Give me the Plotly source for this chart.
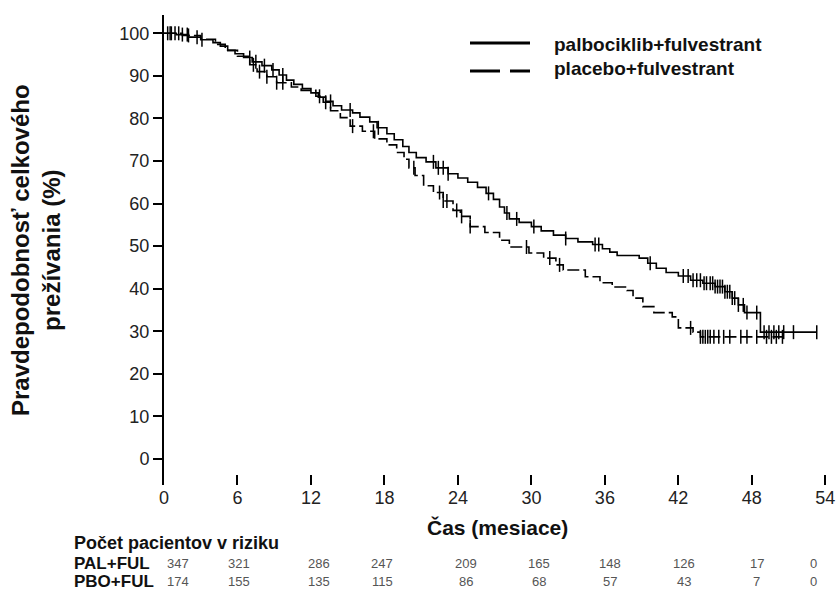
import numpy as np
import plotly.graph_objects as go

# ---------------- data ----------------
pal_t = [0, 1.0, 2.0, 3.0, 4.0, 4.6, 5.2, 5.8, 6.5, 7.2, 8.0, 8.8, 9.4, 10.0, 10.6, 11.3,
         12.0, 12.6, 13.2, 13.8, 14.5, 15.4, 16.0, 16.8, 17.4, 18.2, 18.8, 19.5, 20.0, 20.6,
         21.4, 22.2, 23.2, 24.0, 24.8, 25.6, 26.3, 26.9, 27.4, 27.8, 28.2, 29.0, 30.0, 30.8,
         31.8, 32.8, 33.8, 35.0, 35.8, 36.4, 37.0, 38.8, 39.5, 40.2, 41.0, 42.0, 43.0, 44.0,
         45.0, 45.8, 46.4, 46.9, 47.4, 48.7, 53.3]
pal_s = [100, 99.7, 99.1, 98.5, 97.8, 97.0, 96.0, 95.2, 94.3, 93.3, 92.4, 91.4, 90.2, 89.0,
         88.0, 87.0, 86.0, 85.0, 84.0, 83.0, 82.0, 81.3, 80.3, 79.2, 77.8, 76.4, 75.0, 73.4,
         72.0, 70.8, 69.8, 68.4, 67.0, 66.0, 65.0, 63.8, 62.4, 61.0, 59.2, 57.8, 56.4, 55.6,
         54.6, 53.6, 52.6, 51.8, 51.0, 50.4, 49.4, 48.6, 47.8, 47.2, 46.0, 44.8, 43.8, 43.0,
         42.0, 41.3, 40.5, 39.3, 37.8, 36.2, 34.4, 29.8, 29.8]
pal_censor = [0.3, 0.6, 0.9, 1.5, 1.9, 2.7, 3.1, 7.0, 7.5, 8.2, 8.9, 9.7, 13.6, 15.2, 17.5,
              22.0, 22.4, 22.8, 23.2, 26.5, 28.0, 28.8, 30.2, 32.8, 35.2, 35.5, 39.7, 42.4,
              42.8, 43.2, 43.5, 43.8, 44.1, 44.3, 44.6, 44.8, 45.0, 45.2, 45.4, 45.6, 45.8,
              46.0, 46.2, 46.4, 46.6, 46.9, 47.3, 47.6, 48.4, 49.0, 49.4, 49.8, 50.2, 50.6,
              51.4, 53.3]

pbo_t = [0, 1.5, 3.0, 4.2, 5.0, 6.0, 7.0, 7.6, 8.4, 9.2, 10.4, 11.2, 12.4, 13.0, 13.6, 14.4,
         15.2, 16.2, 17.2, 18.2, 19.0, 19.6, 20.0, 20.5, 21.2, 22.0, 22.8, 23.6, 24.2, 25.0,
         26.2, 27.4, 28.2, 29.8, 31.0, 32.0, 32.6, 34.4, 35.6, 36.6, 37.8, 38.3, 39.1, 40.0,
         41.5, 42.0, 43.2, 43.8, 50.5]
pbo_s = [100, 99.5, 98.6, 97.4, 96.0, 94.6, 92.6, 91.0, 89.8, 88.4, 87.4, 86.6, 85.2, 83.8,
         81.8, 80.2, 78.2, 77.0, 75.2, 73.8, 72.0, 70.4, 68.4, 66.6, 64.2, 62.6, 60.6, 58.4,
         57.0, 54.6, 53.2, 51.4, 49.8, 48.4, 47.2, 45.6, 44.4, 42.8, 41.4, 40.4, 39.6, 37.8,
         35.8, 34.4, 33.4, 30.8, 29.8, 28.7, 28.7]
pbo_censor = [0.5, 1.2, 2.0, 7.3, 7.8, 8.4, 9.2, 9.7, 12.7, 13.2, 15.4, 17.1, 20.4, 22.5,
              22.8, 23.1, 23.9, 24.3, 25.0, 29.6, 31.5, 32.3, 43.0, 43.8, 44.0, 44.2, 44.4,
              44.6, 44.9, 45.3, 45.7, 46.2, 47.1, 47.6, 48.4, 49.2, 49.6, 50.0, 50.5]

x_ticks = [0, 6, 12, 18, 24, 30, 36, 42, 48, 54]
y_ticks = [0, 10, 20, 30, 40, 50, 60, 70, 80, 90, 100]
risk_pal = [347, 321, 286, 247, 209, 165, 148, 126, 17, 0]
risk_pbo = [174, 155, 135, 115, 86, 68, 57, 43, 7, 0]

series_names = ["palbociklib+fulvestrant", "placebo+fulvestrant"]
row_labels = ["PAL+FUL", "PBO+FUL"]
risk_title = "Počet pacientov v riziku"
x_title = "Čas (mesiace)"
y_title = "Pravdepodobnosť celkového<br>prežívania (%)"

# ---------------- layout helpers ----------------
W, H = 837, 590
ML, MR, MT, MB = 164, 8, 15, 105
PW, PH = W - ML - MR, H - MT - MB
# pixel nudges of risk-table columns relative to their ticks (layout only)
RISK_SHIFT = [14, 2, 8, -2, 8, 8, 5, 6, 5, -12]


def px(xp):
    return (xp - ML) / PW


def py(yp):
    return (H - MB - yp) / PH


def step_at(ts, ss, t):
    ts = np.asarray(ts)
    ss = np.asarray(ss)
    idx = np.searchsorted(ts, t, side="right") - 1
    return ss[np.clip(idx, 0, len(ss) - 1)]


FONT = "Liberation Sans, Arial, sans-serif"

fig = go.Figure()
for ts, ss, cens, dash in [(pal_t, pal_s, pal_censor, "solid"),
                           (pbo_t, pbo_s, pbo_censor, "12px,4px")]:
    fig.add_trace(go.Scatter(x=ts, y=ss, mode="lines", line_shape="hv",
                             line=dict(color="black", width=1.6, dash=dash),
                             showlegend=False, hoverinfo="skip"))
    fig.add_trace(go.Scatter(x=cens, y=step_at(ts, ss, cens), mode="markers",
                             marker=dict(symbol="line-ns-open", size=10, color="black",
                                         line=dict(color="black", width=1.5)),
                             showlegend=False, hoverinfo="skip"))

fig.update_layout(
    width=W, height=H,
    margin=dict(l=ML, r=MR, t=MT, b=MB, autoexpand=False),
    paper_bgcolor="white", plot_bgcolor="white",
    font=dict(family=FONT, color="#222"),
    showlegend=False,
    xaxis=dict(range=[0, 54.3], tickvals=x_ticks, ticks="inside", ticklen=10,
               tickwidth=1.5, tickcolor="black", showline=False, showgrid=False,
               zeroline=False, tickfont=dict(size=18, color="#222", family=FONT)),
    yaxis=dict(range=[-6.1, 104.3], tickvals=y_ticks, ticks="outside", ticklen=9,
               tickwidth=1.5, tickcolor="black", showline=True, linewidth=2,
               linecolor="black", showgrid=False, zeroline=False,
               tickfont=dict(size=18, color="#222", family=FONT)),
)

# legend (custom, long line samples)
leg_y = [43, 71]
fig.add_shape(type="line", xref="paper", yref="paper", x0=px(470), x1=px(530),
              y0=py(leg_y[0]), y1=py(leg_y[0]), line=dict(color="black", width=3))
fig.add_shape(type="line", xref="paper", yref="paper", x0=px(470), x1=px(500),
              y0=py(leg_y[1]), y1=py(leg_y[1]), line=dict(color="black", width=3))
fig.add_shape(type="line", xref="paper", yref="paper", x0=px(510), x1=px(530),
              y0=py(leg_y[1]), y1=py(leg_y[1]), line=dict(color="black", width=3))
for name, yy in zip(series_names, [44, 68]):
    fig.add_annotation(text=name, xref="paper", yref="paper", x=px(552), y=py(yy),
                       xanchor="left", yanchor="middle", showarrow=False,
                       font=dict(size=19, color="#111", family=FONT, weight="bold"))

# axis titles
fig.add_annotation(text=x_title, xref="paper", yref="paper", x=px(497), y=py(527),
                   xanchor="center", yanchor="middle", showarrow=False,
                   font=dict(size=21, color="#111", family=FONT, weight="bold"))
fig.add_annotation(text=y_title, xref="paper", yref="paper", x=px(36), y=py(250),
                   xanchor="center", yanchor="middle", showarrow=False, textangle=-90,
                   font=dict(size=24, color="#111", family=FONT, weight="bold"))

# risk table
fig.add_annotation(text=risk_title, xref="paper", yref="paper", x=px(72), y=py(543),
                   xanchor="left", yanchor="middle", showarrow=False,
                   font=dict(size=18, color="#111", family=FONT, weight="bold"))
for lab, vals, yy in zip(row_labels, [risk_pal, risk_pbo], [563, 581]):
    fig.add_annotation(text=lab, xref="paper", yref="paper", x=px(72), y=py(yy),
                       xanchor="left", yanchor="middle", showarrow=False,
                       font=dict(size=17, color="#111", family=FONT, weight="bold"))
    for t, v, sh in zip(x_ticks, vals, RISK_SHIFT):
        fig.add_annotation(text=str(v), xref="x", yref="paper", x=t, y=py(yy),
                           xanchor="center", yanchor="middle", showarrow=False, xshift=sh,
                           font=dict(size=13, color="#555", family=FONT))

fig.write_html("out.html", config={"displayModeBar": False},
               post_script="document.body.style.margin='0px';"
                           "document.body.style.overflow='hidden';")
